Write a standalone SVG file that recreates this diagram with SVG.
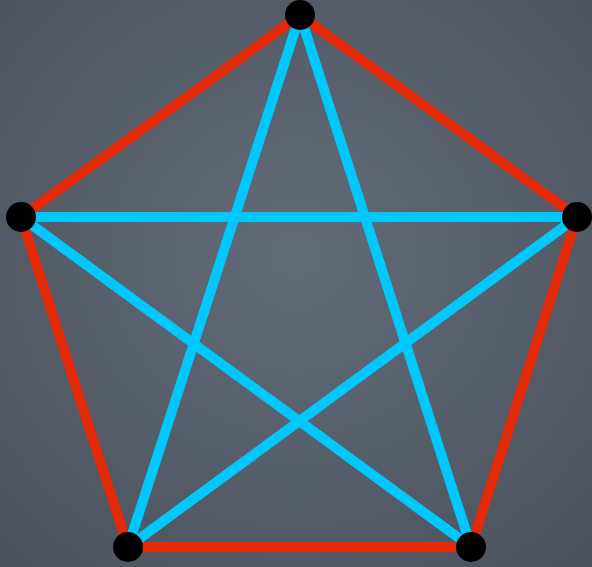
<svg xmlns="http://www.w3.org/2000/svg" width="592" height="567" viewBox="0 0 592 567">
<style>
.red{stroke:#e42a06;stroke-width:10;stroke-linecap:round;fill:none}
.blue{stroke:#00c8fc;stroke-width:10;stroke-linecap:round;fill:none}
.node{fill:#000}
</style>
<defs>
<radialGradient id="bg" cx="50%" cy="45%" r="70%">
<stop offset="0" stop-color="#636b78"/>
<stop offset="1" stop-color="#4c535f"/>
</radialGradient>
</defs>
<rect width="592" height="567" fill="url(#bg)"/>
<g id="connectors">
<line class="red" x1="300" y1="15" x2="21" y2="217"/>
<line class="red" x1="300" y1="15" x2="577" y2="217"/>
<line class="red" x1="21" y1="217" x2="128" y2="547"/>
<line class="red" x1="577" y1="217" x2="471" y2="547"/>
<line class="red" x1="128" y1="547" x2="471" y2="547"/>
<line class="blue" x1="21" y1="217" x2="577" y2="217"/>
<line class="blue" x1="300" y1="15" x2="128" y2="547"/>
<line class="blue" x1="300" y1="15" x2="471" y2="547"/>
<line class="blue" x1="21" y1="217" x2="471" y2="547"/>
<line class="blue" x1="577" y1="217" x2="128" y2="547"/>
</g>
<g id="n1"><circle class="node" cx="300" cy="15" r="15"/></g>
<g id="n2"><circle class="node" cx="21" cy="217" r="15"/></g>
<g id="n3"><circle class="node" cx="577" cy="217" r="15"/></g>
<g id="n4"><circle class="node" cx="128" cy="547" r="15"/></g>
<g id="n5"><circle class="node" cx="471" cy="547" r="15"/></g>
</svg>
